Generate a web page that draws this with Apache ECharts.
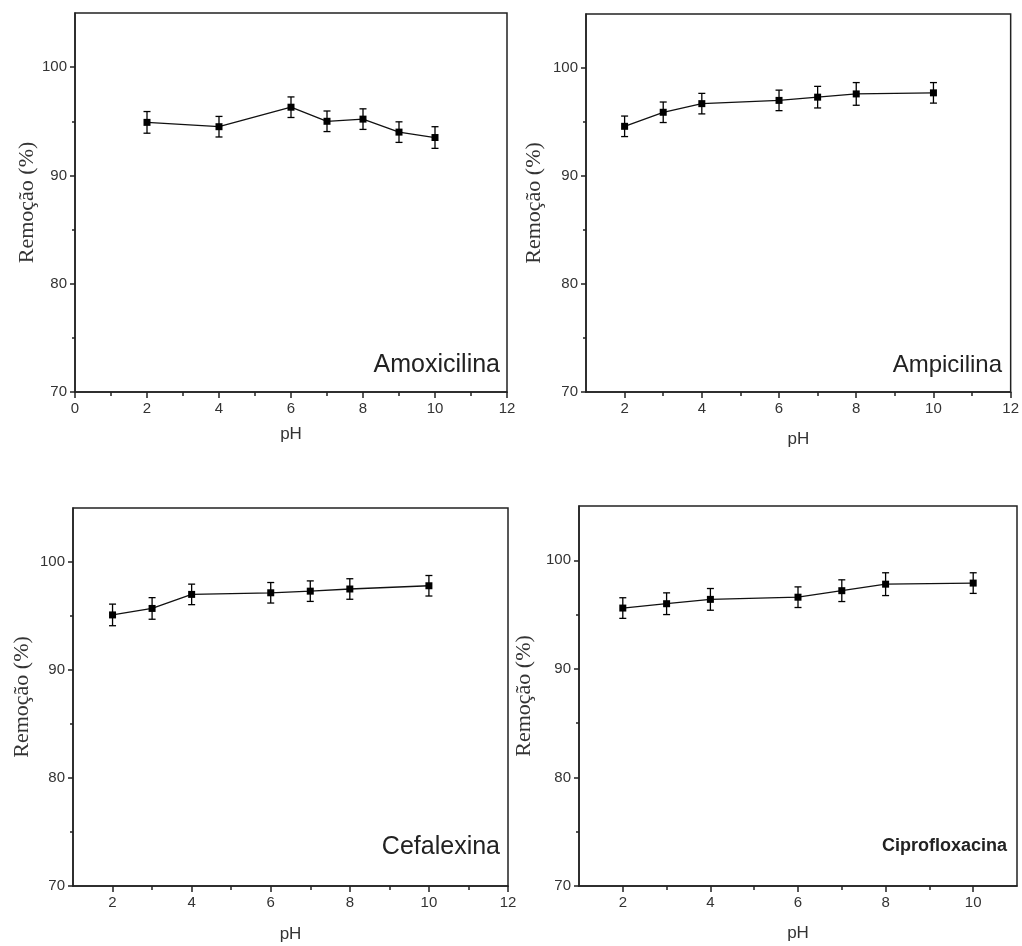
<!DOCTYPE html>
<html><head><meta charset="utf-8">
<script src="https://cdn.jsdelivr.net/npm/echarts@6/dist/echarts.min.js"></script>
<style>html,body{margin:0;padding:0;background:#fff}#c{width:1022px;height:946px}</style>
</head><body><div id="c"></div>
<script>
// ---- data ----
const phAmox = [2, 4, 6, 7, 8, 9, 10];
const remAmox = [94.9, 94.5, 96.3, 95.0, 95.2, 94.0, 93.5];
const errAmox = [1.0, 0.95, 0.95, 0.95, 0.95, 0.95, 1.0];
const phOthers = [2, 3, 4, 6, 7, 8, 10];
const remAmp = [94.6, 95.9, 96.7, 97.0, 97.3, 97.6, 97.7];
const errAmp = [0.95, 0.95, 0.95, 0.95, 1.0, 1.05, 0.95];
const remCef = [95.1, 95.7, 97.0, 97.15, 97.3, 97.5, 97.8];
const errCef = [1.0, 1.0, 0.95, 0.95, 0.95, 0.95, 0.95];
const remCip = [95.6, 96.0, 96.4, 96.6, 97.2, 97.8, 97.9];
const errCip = [0.95, 1.0, 1.0, 0.95, 1.0, 1.05, 0.95];
const drugNames = ['Amoxicilina', 'Ampicilina', 'Cefalexina', 'Ciprofloxacina'];
const yMajorTicks = [70, 80, 90, 100];
const yMinorTicks = [75, 85, 95];
const xMajor1 = [0, 2, 4, 6, 8, 10, 12];
const xMinor1 = [1, 3, 5, 7, 9, 11];
const xMajor23 = [2, 4, 6, 8, 10, 12];
const xMinor23 = [3, 5, 7, 9, 11];
const xMajor4 = [2, 4, 6, 8, 10];
const xMinor4 = [3, 5, 7, 9];
const xTitle = 'pH';
const yTitle = 'Remoção (%)';

// ---- layout ----
const panels = [
  {ph: phAmox, rem: remAmox, err: errAmox, xmin: 0, xmax: 12, xMaj: xMajor1, xMin: xMinor1,
   grid: {left: 75, right: 515, top: 13, bottom: 554}, yGap: 35, xGap: 34,
   label: {x: 500, y: 365, font: '25px "Liberation Sans"'}},
  {ph: phOthers, rem: remAmp, err: errAmp, xmin: 1, xmax: 12, xMaj: xMajor23, xMin: xMinor23,
   grid: {left: 586, right: 9, top: 14, bottom: 554}, yGap: 41, xGap: 39,
   label: {x: 1002, y: 365, font: '24px "Liberation Sans"'}},
  {ph: phOthers, rem: remCef, err: errCef, xmin: 1, xmax: 12, xMaj: xMajor23, xMin: xMinor23,
   grid: {left: 73, right: 514, top: 508, bottom: 60}, yGap: 40, xGap: 40,
   label: {x: 500, y: 847, font: '25px "Liberation Sans"'}},
  {ph: phOthers, rem: remCip, err: errCip, xmin: 1, xmax: 11, xMaj: xMajor4, xMin: xMinor4,
   grid: {left: 579, right: 5, top: 506, bottom: 60}, yGap: 44, xGap: 39,
   label: {x: 1007, y: 846, font: 'bold 18px "Liberation Sans"'}}
];

const axisColor = '#222';
const lineSt = {color: axisColor, width: 1.5};
const tickFont = {fontFamily: 'Liberation Sans', fontSize: 15, color: '#333'};

const grids = [], xAxes = [], yAxes = [], series = [], graphics = [];
panels.forEach((p, i) => {
  grids.push(Object.assign({show: true, borderColor: axisColor, borderWidth: 1.5,
    backgroundColor: 'transparent'}, p.grid));
  xAxes.push({type: 'value', gridIndex: i, position: 'bottom', min: p.xmin, max: p.xmax,
    axisLine: {show: true, onZero: false, lineStyle: lineSt},
    axisTick: {show: true, customValues: p.xMaj, length: 6, lineStyle: lineSt},
    axisLabel: Object.assign({customValues: p.xMaj, margin: 9}, tickFont),
    splitLine: {show: false},
    name: xTitle, nameLocation: 'middle', nameGap: p.xGap,
    nameTextStyle: {fontFamily: 'Liberation Sans', fontSize: 17, color: '#333'}});
  xAxes.push({type: 'value', gridIndex: i, position: 'bottom', min: p.xmin, max: p.xmax,
    axisLine: {show: false, onZero: false},
    axisTick: {show: true, customValues: p.xMin, length: 4, lineStyle: lineSt},
    axisLabel: {show: false}, splitLine: {show: false}});
  yAxes.push({type: 'value', gridIndex: i, position: 'left', min: 70, max: 105,
    axisLine: {show: true, onZero: false, lineStyle: lineSt},
    axisTick: {show: true, customValues: yMajorTicks, length: 5, lineStyle: lineSt},
    axisLabel: Object.assign({customValues: yMajorTicks, margin: 8}, tickFont),
    splitLine: {show: false},
    name: yTitle, nameLocation: 'middle', nameGap: p.yGap,
    nameTextStyle: {fontFamily: 'Liberation Serif', fontSize: 22, color: '#333'}});
  yAxes.push({type: 'value', gridIndex: i, position: 'left', min: 70, max: 105,
    axisLine: {show: false, onZero: false},
    axisTick: {show: true, customValues: yMinorTicks, length: 3, lineStyle: lineSt},
    axisLabel: {show: false}, splitLine: {show: false}});

  series.push({
    type: 'custom', xAxisIndex: 2 * i, yAxisIndex: 2 * i, z: 3,
    data: p.ph.map((x, j) => [x, p.rem[j] - p.err[j], p.rem[j] + p.err[j]]),
    encode: {x: 0, y: [1, 2]},
    renderItem: function (params, api) {
      const x = api.value(0);
      const a = api.coord([x, api.value(1)]);
      const b = api.coord([x, api.value(2)]);
      const w = 3.5;
      const st = {stroke: '#000', lineWidth: 1.3};
      return {type: 'group', children: [
        {type: 'line', shape: {x1: a[0], y1: a[1], x2: b[0], y2: b[1]}, style: st},
        {type: 'line', shape: {x1: a[0] - w, y1: a[1], x2: a[0] + w, y2: a[1]}, style: st},
        {type: 'line', shape: {x1: b[0] - w, y1: b[1], x2: b[0] + w, y2: b[1]}, style: st}
      ]};
    }
  });
  series.push({
    type: 'line', xAxisIndex: 2 * i, yAxisIndex: 2 * i, z: 4,
    data: p.ph.map((x, j) => [x, p.rem[j]]),
    symbol: 'rect', symbolSize: 7,
    itemStyle: {color: '#000'},
    lineStyle: {color: '#111', width: 1.3}
  });
  graphics.push({type: 'text', x: p.label.x, y: p.label.y, z: 10,
    style: {text: drugNames[i], font: p.label.font, fill: '#222',
      textAlign: 'right', textVerticalAlign: 'middle'}});
});

const chart = echarts.init(document.getElementById('c'), null, {renderer: 'canvas'});
chart.setOption({
  animation: false,
  backgroundColor: '#fff',
  grid: grids, xAxis: xAxes, yAxis: yAxes, series: series, graphic: graphics
});
</script>
</body></html>
